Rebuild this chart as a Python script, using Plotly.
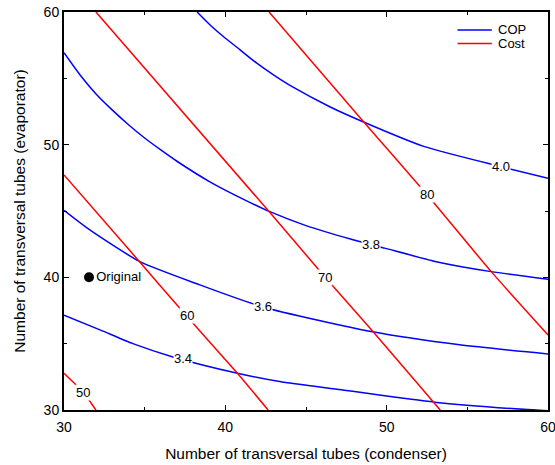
import plotly.graph_objects as go

# COP contour lines (x = condenser tubes, y = evaporator tubes)
cop_levels = ["3.4", "3.6", "3.8", "4.0"]
cop_x = [
    [30, 32.23, 34.27, 36.75, 40.75, 43.37, 47.19, 52.97, 58.5, 60],
    [30, 31.6, 34.71, 38.42, 42.32, 49.13, 54.52, 60],
    [30, 31.0, 32.0, 33.0, 34.0, 35.0, 36.0, 37.0, 39.04, 41.1, 42.76, 45.0, 47.81, 49.88, 53.0, 56.48, 60],
    [38.25, 39.04, 39.86, 40.9, 41.93, 42.96, 44.2, 46.47, 48.53, 52.35, 57.09, 60],
]
cop_y = [
    [37.14, 36.04, 35.0, 34.0, 32.77, 32.14, 31.52, 30.59, 30.05, 29.95],
    [45.05, 43.57, 41.18, 39.43, 37.77, 35.89, 34.91, 34.23],
    [56.93, 55.25, 53.8, 52.6, 51.5, 50.5, 49.6, 48.75, 47.2, 45.9, 44.95, 43.9, 42.87, 42.2, 41.2, 40.43, 39.86],
    [60, 59.04, 58.17, 57.16, 56.16, 55.28, 54.33, 52.86, 51.73, 49.85, 48.34, 47.47],
]
cop_label_x = [37.37, 42.32, 49.05, 57.09]
cop_label_y = [33.85, 37.77, 42.44, 48.34]

# Cost contour lines
cost_levels = ["50", "60", "70", "80"]
cost_x = [
    [30, 31.19, 31.98],
    [30, 34.71, 37.6, 40.75, 42.65],
    [31.98, 42.71, 46.16, 49.15, 53.32],
    [42.71, 48.54, 52.52, 56.48, 60],
]
cost_y = [
    [32.77, 31.34, 30],
    [47.72, 41.14, 37.08, 32.77, 30],
    [60, 44.96, 40.05, 35.91, 30],
    [60, 51.77, 46.21, 40.43, 35.66],
]
cost_label_x = [31.19, 37.6, 46.16, 52.52]
cost_label_y = [31.34, 37.09, 40.0, 46.21]

orig_x = [31.55]
orig_y = [40]

legend_names = ["COP", "Cost"]
legend_colors = ["#0000ff", "#ff0000"]

fig = go.Figure()
for i, lv in enumerate(cop_levels):
    fig.add_trace(go.Scatter(x=cop_x[i], y=cop_y[i], mode="lines",
                             line=dict(color="#0000ff", width=1.5, shape="spline", smoothing=0.6),
                             name="COP", showlegend=False, hoverinfo="skip"))
for i, lv in enumerate(cost_levels):
    fig.add_trace(go.Scatter(x=cost_x[i], y=cost_y[i], mode="lines",
                             line=dict(color="#ff0000", width=1.5, shape="spline", smoothing=0.5),
                             name="Cost", showlegend=False, hoverinfo="skip"))
fig.add_trace(go.Scatter(x=orig_x, y=orig_y, mode="markers+text",
                         marker=dict(color="black", size=10),
                         text=["Original"], textposition="middle right",
                         textfont=dict(size=13, color="black"),
                         showlegend=False, hoverinfo="skip"))

for lx, ly, t in zip(cop_label_x + cost_label_x, cop_label_y + cost_label_y, cop_levels + cost_levels):
    fig.add_annotation(x=lx, y=ly, text=t, showarrow=False,
                       font=dict(size=13, color="black"),
                       bgcolor="white", borderpad=0)

# legend (drawn inside the plot, top-right)
for k, (nm, col) in enumerate(zip(legend_names, legend_colors)):
    yy = 0.955 - k * 0.034
    fig.add_shape(type="line", xref="paper", yref="paper", x0=0.813, x1=0.884, y0=yy, y1=yy,
                  line=dict(color=col, width=1.5))
    fig.add_annotation(xref="paper", yref="paper", x=0.893, y=yy, text=nm, showarrow=False,
                       xanchor="left", yanchor="middle", font=dict(size=13, color="black"))

axis_common = dict(showline=True, linecolor="black", linewidth=2, mirror="ticks",
                   ticks="inside", ticklen=5, tickcolor="black", tickwidth=1,
                   showgrid=False, zeroline=False, automargin=False,
                   ticklabeloverflow="allow",
                   tickfont=dict(size=14, color="black"),
                   dtick=10, tick0=30,
                   minor=dict(ticks="inside", ticklen=3, dtick=5, tickcolor="black"))

fig.update_xaxes(range=[30, 60], ticklabelstandoff=3,
                 title=dict(text="Number of transversal tubes (condenser)",
                            font=dict(size=15.5, color="black"), standoff=14), **axis_common)
fig.update_yaxes(range=[30, 60],
                 title=dict(text="Number of transversal tubes (evaporator)",
                            font=dict(size=15.5, color="black"), standoff=14), **axis_common)

fig.update_layout(
    width=555, height=465,
    margin=dict(l=64, r=7, t=12, b=55),
    paper_bgcolor="white", plot_bgcolor="white",
    font=dict(family="Liberation Sans, Arial, sans-serif", color="black"),
    showlegend=False,
)

fig.write_html("out.html", config={"displayModeBar": False},
               post_script="document.body.style.margin='0';")
